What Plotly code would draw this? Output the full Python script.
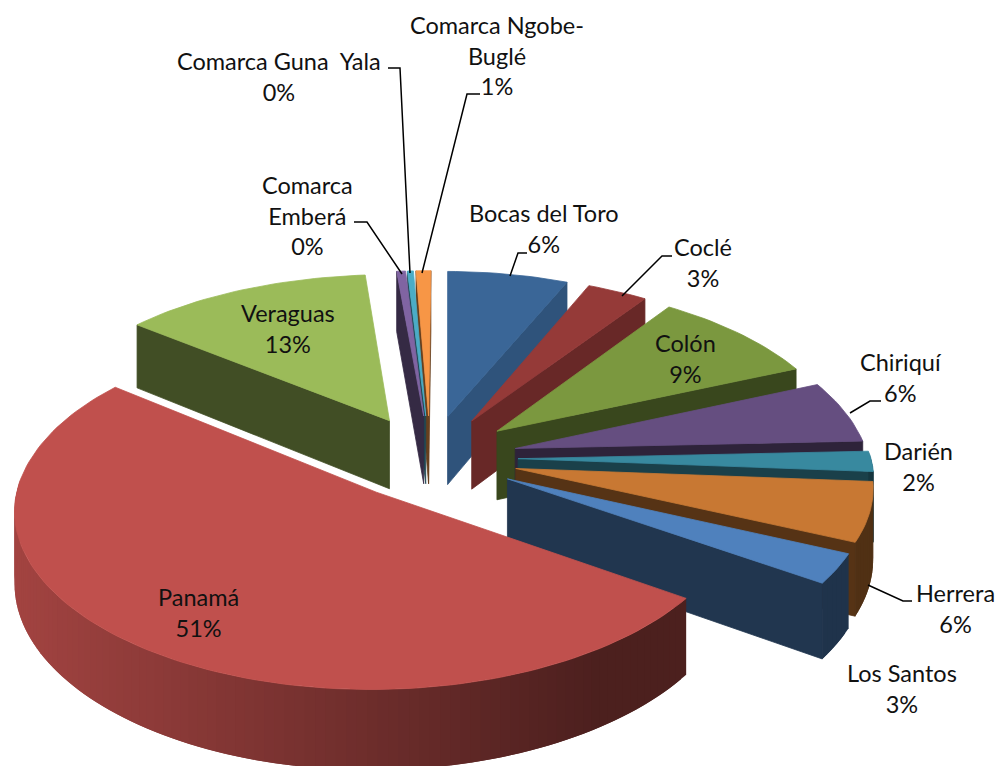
import math
import plotly.graph_objects as go

names = ["Bocas del Toro", "Coclé", "Colón", "Chiriquí", "Darién", "Herrera", "Los Santos",
         "Panamá", "Veraguas", "Comarca Emberá", "Comarca Guna Yala", "Comarca Ngobe-Buglé"]
values = [6.4, 3.2, 8.9, 5.7, 1.9, 5.6, 2.8, 51.2, 12.8, 0.45, 0.3, 0.75]
top_colors = ["#3A6697", "#953A38", "#7B983F", "#654E80", "#38899F", "#C87833", "#4F81BD",
              "#C0504D", "#9BBB59", "#8064A2", "#4BACC6", "#F79646"]
face_shades = [0.82, 0.70, 0.47, 0.46, 0.47, 0.43, 0.42, 0.42, 0.42, 0.42, 0.42, 0.42]
display_names = ["Bocas del Toro", "Coclé", "Colón", "Chiriquí", "Darién", "Herrera", "Los Santos",
                 "Panamá", "Veraguas", "Comarca<br>Emberá", "Comarca Guna  Yala", "Comarca Ngobe-<br>Buglé"]
label_pos = [(544, 228), (703, 262), (685, 358), (901, 377), (918, 466), (955, 608), (902, 688),
             (198, 612), (288, 328), (307, 215), (279, 76), (497, 55)]
leaders = [[(510, 276), (518, 253), (527, 253)],
           [(622, 296), (662, 256), (672, 256)],
           [(850, 413), (870, 401), (881, 401)],
           [(868, 585), (903, 601), (912, 601)],
           [(402, 274), (367, 222), (354, 222)],
           [(410, 273), (400, 68), (388, 68)],
           [(422, 273), (467, 94), (480, 94)]]

CX, CY, R, E, H, K = 430, 458, 353, 88, 70, 0.494
D_X, D_X_BACK_RIGHT, D_FRONT, D_BACK, FRONT_K, ROT = 3800, 2600, 3200, 2700, 0.96, math.radians(0.4)


def proj(x, y, z=0.0):
    d = D_FRONT if y > 0 else D_BACK
    s = d / (d - y)
    dx = D_X_BACK_RIGHT if (x > 0 and y < 0) else D_X
    sx = dx / (dx - y)
    k = K * FRONT_K if y > 0 else K
    return CX + x * sx, CY + k * y * s + z * s


def shade(hex_color, f):
    r, g, b = [int(hex_color[i:i + 2], 16) for i in (1, 3, 5)]
    return f"rgb({int(r * f)},{int(g * f)},{int(b * f)})"


def poly(points, color, lw=0.8):
    xs = [p[0] for p in points] + [points[0][0]]
    ys = [p[1] for p in points] + [points[0][1]]
    return go.Scatter(x=xs, y=ys, mode="lines", fill="toself", fillcolor=color,
                      line=dict(color=color, width=lw), hoverinfo="skip", showlegend=False)


fig = go.Figure()
total = sum(values)
slices = []
acc = 0.0
for i, v in enumerate(values):
    a0 = acc / total * 2 * math.pi + ROT
    acc += v
    a1 = acc / total * 2 * math.pi + ROT
    slices.append((i, a0, a1))
slices.sort(key=lambda t: -math.cos((t[1] + t[2]) / 2))

for i, a0, a1 in slices:
    mid = (a0 + a1) / 2
    ax, ay = E * math.sin(mid), -E * math.cos(mid)
    col = top_colors[i]
    n = max(2, int((a1 - a0) / math.radians(1.5)))
    angs = [a0 + (a1 - a0) * j / n for j in range(n + 1)]
    pts = [(ax + R * math.sin(t), ay - R * math.cos(t)) for t in angs]
    for t, sign, p in ((a0, -1, pts[0]), (a1, 1, pts[-1])):
        nx, ny = sign * math.cos(t), sign * math.sin(t)
        if nx * (0 - ax) + ny * (D_FRONT - ay) > 0:
            fig.add_trace(poly([proj(ax, ay), proj(*p), proj(*p, H), proj(ax, ay, H)],
                               shade(col, face_shades[i])))
    # outer rim: horizontal light-to-dark gradient, each piece overlaps the next
    for j in range(n):
        tm = (angs[j] + angs[j + 1]) / 2
        if math.cos(tm) < 0.05:
            p, q = pts[j], pts[min(j + 2, n)]
            sx = proj(*p)[0]
            f = max(0.40, min(0.85, 0.85 - (sx - 13) / 587 * 0.45))
            fig.add_trace(poly([proj(*p), proj(*q), proj(*q, H), proj(*p, H)], shade(col, f), lw=0))
    fig.add_trace(poly([proj(ax, ay)] + [proj(*p) for p in pts], col))

for seg in leaders:
    fig.add_trace(go.Scatter(x=[p[0] for p in seg], y=[p[1] for p in seg], mode="lines",
                             line=dict(color="black", width=1.5), hoverinfo="skip", showlegend=False))

for name, v, (lx, ly) in zip(display_names, values, label_pos):
    fig.add_annotation(x=lx, y=ly, text=f"{name}<br>{round(v)}%", showarrow=False,
                       font=dict(family="Lato", size=23.5, color="#111111"), align="center",
                       xanchor="center", yanchor="middle")

fig.update_layout(width=1004, height=766, margin=dict(l=0, r=0, t=0, b=0),
                  paper_bgcolor="white", plot_bgcolor="white", showlegend=False,
                  xaxis=dict(range=[0, 1004], visible=False, fixedrange=True),
                  yaxis=dict(range=[766, 0], visible=False, fixedrange=True))
fig.write_html("out.html", config={"displayModeBar": False},
               post_script="document.body.style.margin='0';document.body.style.overflow='hidden';")
